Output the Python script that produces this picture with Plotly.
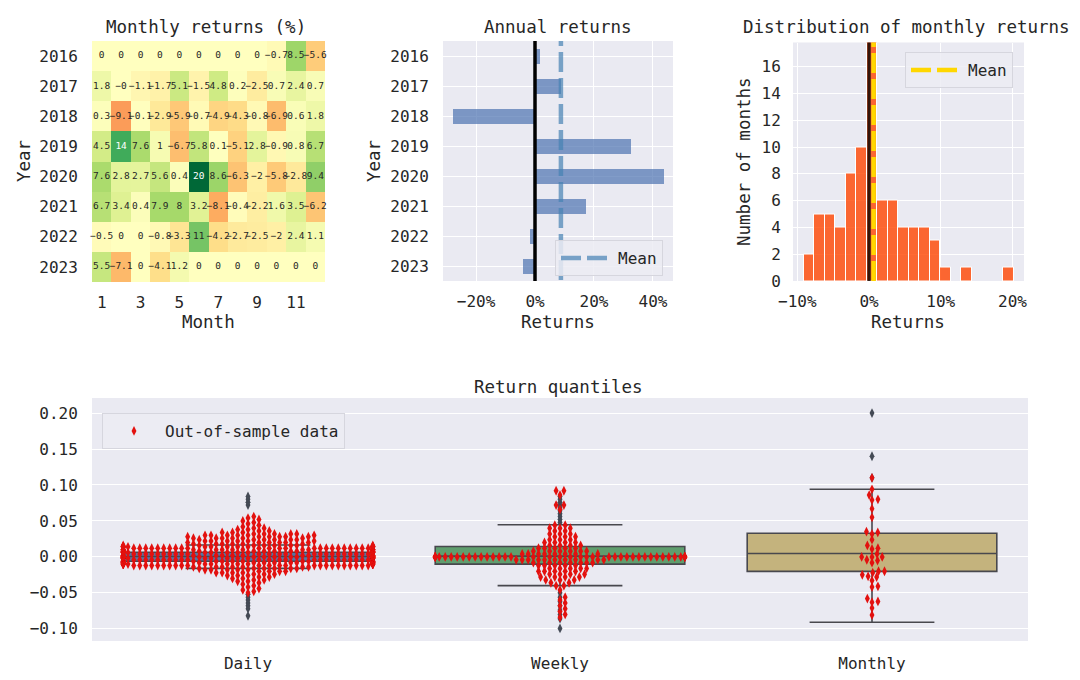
import numpy as np
import plotly.graph_objects as go

FONT = "DejaVu Sans Mono"
TXT = "#262626"
BG = "#EAEAF2"

# ---------------- data ----------------
years = [2016, 2017, 2018, 2019, 2020, 2021, 2022, 2023]
months = [1, 2, 3, 4, 5, 6, 7, 8, 9, 10, 11, 12]
month_ticks = [1, 3, 5, 7, 9, 11]
monthly_pct = [
    [0, 0, 0, 0, 0, 0, 0, 0, 0, -0.7, 8.5, -5.6],
    [1.8, -0.0, -1.1, -1.7, 5.1, -1.5, 4.8, 0.2, -2.5, 0.7, 2.4, 0.7],
    [0.3, -9.1, -0.1, -2.9, -5.9, -0.7, -4.9, -4.3, -0.8, -6.9, 0.6, 1.8],
    [4.5, 14, 7.6, 1, -6.7, 5.8, 0.1, -5.1, 2.8, -0.9, 0.8, 6.7],
    [7.6, 2.8, 2.7, 5.6, 0.4, 20, 8.6, -6.3, -2, -5.8, -2.8, 9.4],
    [6.7, 3.4, 0.4, 7.9, 8, 3.2, -8.1, -0.4, -2.2, 1.6, 3.5, -6.2],
    [-0.5, 0, 0, -0.8, -3.3, 11, -4.2, -2.7, -2.5, -2, 2.4, 1.1],
    [5.5, -7.1, 0, -4.1, 1.2, 0, 0, 0, 0, 0, 0, 0],
]
annual_pct = [1.7, 8.8, -27.7, 32.4, 43.7, 17.3, -1.7, -4.2]
annual_ticks = [-20, 0, 20, 40]
hist_xticks = [-10, 0, 10, 20]
hist_yticks = [0, 2, 4, 6, 8, 10, 12, 14, 16]

# return quantiles (box statistics)
quant_names = ["Daily", "Weekly", "Monthly"]
box_q1 = [-0.006, -0.0101, -0.0202]
box_median = [0.0005, 0.001, 0.0047]
box_q3 = [0.0065, 0.0144, 0.0328]
box_lo = [-0.016, -0.040, -0.091]
box_hi = [0.0166, 0.0448, 0.094]
box_colors = ["#5875a4", "#5f9e6e", "#c4b37d"]
daily_outliers = [0.072, 0.076, 0.080, 0.084, -0.052, -0.056, -0.060, -0.064,
                  -0.068, -0.072, -0.082]
weekly_outliers = [0.048, 0.052, 0.056, 0.060, 0.064, 0.068, 0.072, 0.076, 0.080,
                   0.084, -0.050, -0.056, -0.062, -0.068, -0.074, -0.080, -0.086,
                   -0.0995]
monthly_outliers = [0.11, 0.14, 0.20]
quant_yticks = [-0.10, -0.05, 0.00, 0.05, 0.10, 0.15, 0.20]

daily_levels = [-0.050, -0.048, -0.046, -0.044, -0.042, -0.040, -0.038, -0.036,
                -0.034, -0.032, -0.030, -0.028, -0.026, -0.024, -0.022, -0.020,
                -0.018, -0.016, -0.014, -0.012, -0.010, -0.008, -0.006, -0.004,
                -0.002, 0.000, 0.002, 0.004, 0.006, 0.008, 0.010, 0.012, 0.014,
                0.016, 0.018, 0.020, 0.022, 0.024, 0.026, 0.028, 0.030, 0.032,
                0.034, 0.036, 0.038, 0.040, 0.042, 0.044, 0.046, 0.048, 0.050,
                0.052, 0.054, 0.056]
daily_counts = [1, 1, 1, 1, 1, 1, 1, 1,
                2, 2, 2, 2, 3, 3, 4, 4,
                5, 6, 7, 24, 24, 24, 24, 24,
                24, 50, 24, 24, 24, 24, 24, 24, 24,
                8, 6, 6, 6, 6, 6, 6, 6, 5,
                3, 2, 2, 2, 1, 1, 1, 1, 1,
                1, 1, 1]
weekly_levels = [-0.084, -0.080, -0.076, -0.072, -0.068, -0.064, -0.060, -0.056,
                 -0.046, -0.040, -0.036, -0.032, -0.028, -0.024, -0.020, -0.016,
                 -0.012, -0.008, -0.004, 0.000, 0.004, 0.008, 0.012, 0.016, 0.020,
                 0.024, 0.028, 0.032, 0.036, 0.040, 0.044, 0.066, 0.072, 0.086,
                 0.092]
weekly_counts = [1, 1, 1, 1, 1, 1, 1, 1,
                 1, 2, 2, 3, 4, 4, 5, 5,
                 5, 7, 10, 45, 8, 6, 5, 4, 4,
                 3, 3, 3, 2, 3, 2, 1, 2, 1,
                 2]
# out-of-sample monthly returns: 2020-07 .. 2023-05 of the table above
oos_start = (4, 6)   # (row, column) of 2020-07
oos_end = (7, 4)     # (row, column) of 2023-05

# ---------------- helpers ----------------
W, H = 1080, 680
OFF = 8  # the page body adds an 8px margin around the figure
def px(p):
    return (p - OFF) / W
def py(p):
    return 1 - (p - OFF) / H

RDYLGN = ["#a50026", "#d73027", "#f46d43", "#fdae61", "#fee08b", "#ffffbf",
          "#d9ef8b", "#a6d96a", "#66bd63", "#1a9850", "#006837"]
def hex2rgb(h):
    return np.array([int(h[i:i + 2], 16) for i in (1, 3, 5)], float) / 255

def cmap(t):
    t = min(max(t, 0), 1) * 10
    i = min(int(t), 9)
    f = t - i
    return hex2rgb(RDYLGN[i]) * (1 - f) + hex2rgb(RDYLGN[i + 1]) * f

def rel_lum(rgb):
    c = np.where(rgb <= 0.03928, rgb / 12.92, ((rgb + 0.055) / 1.055) ** 2.4)
    return 0.2126 * c[0] + 0.7152 * c[1] + 0.0722 * c[2]

def fmt(v):
    return format(float(v), ".2g").replace("-", "\u2212")

def pct(v):
    return (format(v, "d") + "%").replace("-", "\u2212")

def beeswarm(vals, px_per_y, d, half_w):
    vals = np.asarray(vals, float)
    order = np.argsort(vals, kind="mergesort")
    ys = vals[order] * px_per_y
    xs = np.zeros_like(ys)
    for i in range(1, len(ys)):
        y = ys[i]
        m = np.abs(ys[:i] - y) < d
        nx = xs[:i][m]
        ny = ys[:i][m]
        if nx.size == 0:
            continue
        dy = y - ny
        dx = np.sqrt(np.maximum(d * d - dy * dy, 0)) * 1.05
        cand = np.concatenate([[0.0], nx + dx, nx - dx])
        cand = cand[np.argsort(np.abs(cand), kind="mergesort")]
        dist2 = (cand[:, None] - nx[None, :]) ** 2 + (y - ny[None, :]) ** 2
        ok = np.all(dist2 >= d * d - 1e-6, axis=1)
        j = int(np.argmax(ok)) if ok.any() else len(cand) - 1
        xs[i] = cand[j]
    xs = np.clip(xs, -half_w, half_w)
    out = np.empty_like(xs)
    out[order] = xs
    return out

fig = go.Figure()

# ---------------- heatmap ----------------
fig.add_trace(go.Heatmap(
    z=monthly_pct, x=months, y=years, zmin=-20, zmax=20,
    colorscale=[[i / 10, c] for i, c in enumerate(RDYLGN)], showscale=False,
    xaxis="x", yaxis="y", hoverinfo="skip"))
tx, ty, tt, tc = [], [], [], []
for r, yr in enumerate(years):
    for c, mo in enumerate(months):
        v = monthly_pct[r][c]
        tx.append(mo)
        ty.append(yr)
        tt.append(fmt(v))
        lum = rel_lum(cmap((v + 20) / 40))
        tc.append(TXT if lum > 0.408 else "white")
fig.add_trace(go.Scatter(
    x=tx, y=ty, text=tt, mode="text", cliponaxis=False,
    textfont=dict(family=FONT, size=9.5, color=tc), showlegend=False,
    xaxis="x", yaxis="y", hoverinfo="skip"))

# ---------------- annual returns ----------------
ann_mean = float(np.mean(annual_pct))
fig.add_trace(go.Bar(
    x=annual_pct, y=years, orientation="h", width=0.5,
    marker=dict(color="rgba(76,114,176,0.7)", line=dict(width=0)),
    showlegend=False, xaxis="x2", yaxis="y2"))
fig.add_trace(go.Scatter(
    x=[ann_mean, ann_mean], y=[2015.0, 2024.0], mode="lines", name="Mean",
    line=dict(color="rgba(70,130,180,0.7)", width=4.5, dash="20px,6px"),
    legend="legend2", xaxis="x2", yaxis="y2"))
fig.add_trace(go.Scatter(
    x=[0, 0], y=[2015.0, 2024.0], mode="lines", showlegend=False,
    line=dict(color="black", width=3.5), xaxis="x2", yaxis="y2"))

# ---------------- distribution of monthly returns ----------------
flat = [v for row in monthly_pct for v in row]
m_mean = float(np.mean(flat))
fig.add_trace(go.Histogram(
    x=flat, xbins=dict(start=-9.1, end=20.2, size=1.465),
    marker=dict(color="rgba(255,69,0,0.8)", line=dict(color="white", width=1)),
    showlegend=False, xaxis="x3", yaxis="y3"))
fig.add_trace(go.Scatter(
    x=[m_mean, m_mean], y=[0, 20], mode="lines", name="Mean",
    line=dict(color="gold", width=4.5, dash="20px,6px"),
    legend="legend3", xaxis="x3", yaxis="y3"))
fig.add_trace(go.Scatter(
    x=[0, 0], y=[0, 20], mode="lines", showlegend=False,
    line=dict(color="rgba(0,0,0,0.8)", width=3.3), xaxis="x3", yaxis="y3"))

# ---------------- return quantiles ----------------
BOX_LINE = "#48484e"
for i in range(3):
    fig.add_trace(go.Box(
        x=[i], q1=[box_q1[i]], median=[box_median[i]], q3=[box_q3[i]],
        lowerfence=[box_lo[i]], upperfence=[box_hi[i]], width=0.8,
        whiskerwidth=0.5, fillcolor=box_colors[i], boxpoints=False,
        line=dict(color=BOX_LINE, width=1.6), showlegend=False,
        orientation="v", xaxis="x4", yaxis="y4", hoverinfo="skip"))
for i, outs in enumerate([daily_outliers, weekly_outliers, monthly_outliers]):
    fig.add_trace(go.Scatter(
        x=[i] * len(outs), y=outs, mode="markers", showlegend=False,
        marker=dict(symbol="diamond-tall", size=7, color="#444a55"),
        xaxis="x4", yaxis="y4", hoverinfo="skip"))

Y4 = (-0.117, 0.221)
X4_DOM = (92, 1028)
Y4_DOM = (398, 641)
px_per_x = (X4_DOM[1] - X4_DOM[0]) / 3.0
px_per_y = (Y4_DOM[1] - Y4_DOM[0]) / (Y4[1] - Y4[0])
D = 5.7

daily_vals = np.repeat(daily_levels, daily_counts)
weekly_vals = np.repeat(weekly_levels, weekly_counts)
monthly_flat = [monthly_pct[r][c] / 100 for r in range(len(years)) for c in range(12)]
a = oos_start[0] * 12 + oos_start[1]
b = oos_end[0] * 12 + oos_end[1]
monthly_vals = np.array(monthly_flat[a:b + 1])

for i, vals in enumerate([daily_vals, weekly_vals, monthly_vals]):
    off = beeswarm(vals, px_per_y, D, 0.4 * px_per_x)
    fig.add_trace(go.Scatter(
        x=i + off / px_per_x, y=vals, mode="markers",
        name="Out-of-sample data", showlegend=(i == 0), legend="legend",
        marker=dict(symbol="diamond-tall", size=7, color="#e3110f",
                    line=dict(width=0)),
        xaxis="x4", yaxis="y4", hoverinfo="skip"))

# ---------------- layout ----------------
tickf = dict(family=FONT, size=16, color=TXT)
hid = "rgba(0,0,0,0)"
grid = dict(showgrid=True, gridcolor="white", gridwidth=1.3)
base = dict(zeroline=False, automargin=False, ticks="outside", tickcolor=hid,
            tickfont=tickf)

def annot(text, x, y, size=17.5, angle=0):
    return dict(text=text, x=px(x), y=py(y), xref="paper", yref="paper",
                showarrow=False, textangle=angle, xanchor="center",
                yanchor="middle", font=dict(family=FONT, size=size, color=TXT))

annotations = [
    annot("Monthly returns (%)", 206, 27),
    annot("Annual returns", 558, 27),
    annot("Distribution of monthly returns", 906, 27),
    annot("Return quantiles", 558, 387),
    annot("Month", 208, 322),
    annot("Year", 24, 161, angle=-90),
    annot("Returns", 558, 322),
    annot("Year", 374, 161, angle=-90),
    annot("Returns", 908, 322),
    annot("Number of months", 744, 162, angle=-90),
]

legend_style = dict(bgcolor="rgba(236,236,243,0.85)", bordercolor="#d6d6de",
                    borderwidth=1, font=dict(family=FONT, size=16, color=TXT),
                    xanchor="left", yanchor="top", itemwidth=52)

fig.update_layout(
    width=W, height=H, margin=dict(l=0, r=0, t=0, b=0, pad=0),
    paper_bgcolor="white", plot_bgcolor=BG,
    font=dict(family=FONT, color=TXT),
    annotations=annotations, bargap=0,
    xaxis=dict(domain=[px(92), px(325)], anchor="y", range=[0.5, 12.5],
               tickvals=month_ticks, showgrid=False, ticklen=6, **base),
    yaxis=dict(domain=[py(282), py(41)], anchor="x", range=[2023.5, 2015.5],
               tickvals=years, showgrid=False, ticklen=10, **base),
    xaxis2=dict(domain=[px(443), px(673)], anchor="y2", range=[-31.2, 46.8],
                tickvals=annual_ticks, ticktext=[pct(v) for v in annual_ticks],
                ticklen=6, **base, **grid),
    yaxis2=dict(domain=[py(281), py(41)], anchor="x2", range=[2023.5, 2015.5],
                tickvals=years, ticklen=10, **base, **grid),
    xaxis3=dict(domain=[px(793), px(1024)], anchor="y3", range=[-10.6, 21.6],
                tickvals=hist_xticks, ticktext=[pct(v) for v in hist_xticks],
                ticklen=6, **base, **grid),
    yaxis3=dict(domain=[py(281), py(42.5)], anchor="x3", range=[0, 17.8],
                tickvals=hist_yticks, ticklen=8, **base, **grid),
    xaxis4=dict(domain=[px(X4_DOM[0]), px(X4_DOM[1])], anchor="y4",
                range=[-0.5, 2.5], tickvals=[0, 1, 2], ticktext=quant_names,
                showgrid=False, ticklen=8, **base),
    yaxis4=dict(domain=[py(Y4_DOM[1]), py(Y4_DOM[0])], anchor="x4",
                range=list(Y4), tickvals=quant_yticks, tickformat=".2f",
                ticklen=10, **base, **grid),
    legend=dict(x=px(102), y=py(413), **legend_style),
    legend2=dict(x=px(555), y=py(240), **legend_style),
    legend3=dict(x=px(905), y=py(52), **legend_style),
)

fig.write_html("out.html")
